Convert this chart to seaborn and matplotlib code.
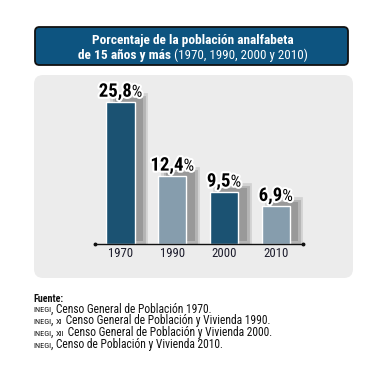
import matplotlib
matplotlib.use("Agg")
import matplotlib.pyplot as plt
import matplotlib.patheffects as pe
from matplotlib.patches import FancyBboxPatch
import seaborn as sns
import pandas as pd

sns.set_theme(style="white")
plt.rcParams['font.family'] = ['Roboto Condensed', 'Archivo Narrow', 'DejaVu Sans']

# data
years = ["1970", "1990", "2000", "2010"]
values = [25.8, 12.4, 9.5, 6.9]
value_labels = ["25,8", "12,4", "9,5", "6,9"]
bar_colors = ["#0c5681", "#7f9eb4", "#0c5681", "#7f9eb4"]

title_1 = "Porcentaje de la población analfabeta"
title_2a = "de 15 años y más"
title_2b = " (1970, 1990, 2000 y 2010)"
source_head = "Fuente:"
source_lines = [[("INEGI", "sc"), (", Censo General de Población 1970.", "n")],
                [("INEGI", "sc"), (", ", "n"), ("XI", "sc"), (" Censo General de Población y Vivienda 1990.", "n")],
                [("INEGI", "sc"), (", ", "n"), ("XII", "sc"), (" Censo General de Población y Vivienda 2000.", "n")],
                [("INEGI", "sc"), (", Censo de Población y Vivienda 2010.", "n")]]

W, H = 365, 366
fig = plt.figure(figsize=(W / 100, H / 100), dpi=100)
fig.patch.set_facecolor("white")


def fx(px):
    return px / W


def fy(py):
    return 1 - py / H


renderer = fig.canvas.get_renderer()


def put_parts(parts, x_px, y_px, align="center"):
    # row of differently styled text pieces, x/y in pixels from top-left
    texts = [fig.text(0, 0, s, zorder=5, **kw) for s, kw in parts]
    widths = [t.get_window_extent(renderer).width for t in texts]
    total = sum(widths)
    x = x_px - total / 2 if align == "center" else x_px
    for t, w in zip(texts, widths):
        t.set_position((fx(x), fy(y_px)))
        x += w
    return texts


# title box
fig.patches.append(FancyBboxPatch((fx(35), fy(65)), fx(348) - fx(35), fy(27) - fy(65),
                                  boxstyle="round,pad=0,rounding_size=0.012",
                                  transform=fig.transFigure, facecolor="#0d5480",
                                  edgecolor="#111111", linewidth=1.3, zorder=0))
put_parts([(title_1, dict(color="white", fontsize=9.6, fontweight="bold", va="baseline"))], 193, 44)
put_parts([(title_2a, dict(color="white", fontsize=9.6, fontweight="bold", va="baseline")),
           (title_2b, dict(color="white", fontsize=9.4, va="baseline"))], 193, 59)

# gray panel
fig.patches.append(FancyBboxPatch((fx(34), fy(278)), fx(353) - fx(34), fy(75) - fy(278),
                                  boxstyle="round,pad=0,rounding_size=0.025",
                                  transform=fig.transFigure, facecolor="#ececec",
                                  edgecolor="none", zorder=0))

# bar chart
ax = fig.add_axes([fx(95), fy(244), fx(303) - fx(95), fy(80) - fy(244)])
ax.set_zorder(3)
ax.patch.set_alpha(0)
df = pd.DataFrame({"year": years, "value": values})
sns.barplot(data=df, x="year", y="value", hue="year", palette=bar_colors,
            width=0.55, edgecolor="white", linewidth=1.0, legend=False, ax=ax)
for bar in ax.patches:
    # soft drop shadow: light halo, mid halo, core
    bar.set_path_effects([
        pe.Stroke(offset=(6, 2.5), linewidth=7, foreground="#d2d2d2"),
        pe.Stroke(offset=(6, 2.5), linewidth=3.5, foreground="#b4b4b4"),
        pe.SimplePatchShadow(offset=(6, 2.5), shadow_rgbFace="#999999", alpha=1.0),
        pe.Normal(),
    ])
ax.set_xlim(-0.493, 3.527)
ax.set_ylim(0, 29.74)
ax.set_xlabel("")
ax.set_ylabel("")
ax.set_yticks([])
ax.set_xticks([])
for side in ["top", "right", "left"]:
    ax.spines[side].set_visible(False)
ax.spines["bottom"].set_color("#111111")
ax.spines["bottom"].set_linewidth(1.0)
ax.spines["bottom"].set_zorder(4)
ax.plot([-0.493, 3.527], [0, 0], marker="o", markersize=1.8, color="#111111",
        linestyle="none", clip_on=False, zorder=4)

halo = [pe.withStroke(linewidth=3, foreground="white")]
for i, (v, lab) in enumerate(zip(values, value_labels)):
    xd, yd = ax.transData.transform((i, v))
    x_px, y_px = xd, H - yd
    put_parts([(lab, dict(color="black", fontsize=13.5, fontweight="bold", va="baseline",
                          path_effects=halo)),
               ("%", dict(color="black", fontsize=12, va="baseline", path_effects=halo))],
              x_px, y_px - 5)
    put_parts([(years[i], dict(color="#1c1c2c", fontsize=9.2, va="baseline"))], x_px, 257)

# source notes
fig.text(fx(33), fy(302), source_head, fontsize=7.2, fontweight="bold", color="#111111",
         va="baseline")
for k, line in enumerate(source_lines):
    parts = []
    for s, kind in line:
        if kind == "sc":
            parts.append((s, dict(fontsize=6.0, color="#111111", va="baseline")))
        else:
            parts.append((s, dict(fontsize=8.3, color="#111111", va="baseline")))
    put_parts(parts, 33, 312.5 + k * 11.7, align="left")

fig.savefig("out.png", dpi=100, facecolor="white")
